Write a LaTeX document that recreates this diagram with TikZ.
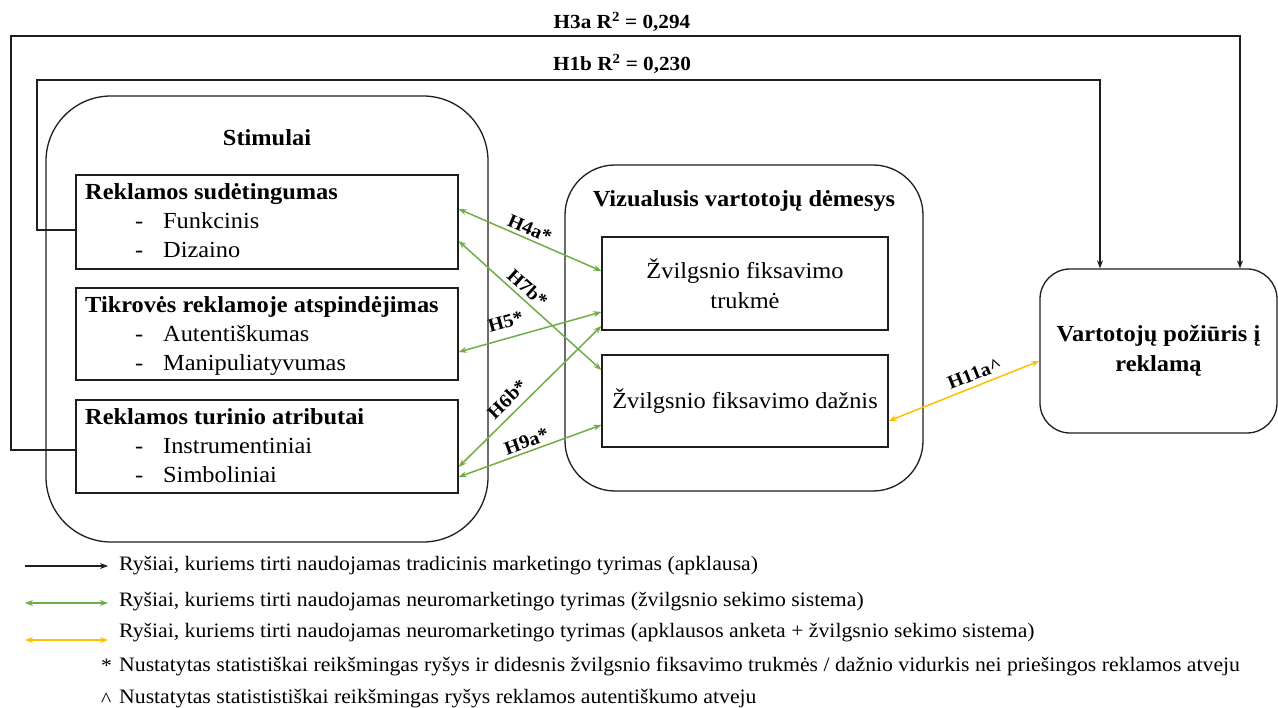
\documentclass[tikz,border=0pt]{standalone}
\usepackage{fontspec}
\setmainfont{Liberation Serif}[FakeStretch=1.06]
\usetikzlibrary{arrows.meta,calc}

\definecolor{eyegreen}{HTML}{70AD47}
\definecolor{mixyellow}{HTML}{FFC000}
\definecolor{linegray}{HTML}{1E1E1E}

\tikzset{
  x=1pt, y=-1pt,
  >={Stealth[length=8pt,width=6pt]},
  panel/.style={draw=linegray, line width=1.3pt, rounded corners=#1, inner sep=0pt},
  factor/.style={draw=linegray, line width=1.3pt, rectangle, inner sep=0pt},
  boxtxt/.style={font=\fontsize{23}{30}\selectfont, inner sep=0pt},
  boxbold/.style={font=\fontsize{23}{30}\selectfont\bfseries, inner sep=0pt},
  blackline/.style={draw=linegray, line width=1.1pt},
  greenline/.style={draw=eyegreen, line width=1.5pt},
  yellowline/.style={draw=mixyellow, line width=1.5pt},
  hyp/.style={font=\fontsize{19}{19}\selectfont\bfseries, inner sep=1pt, sloped, above=#1},
  hyp/.default=2pt,
  toplabel/.style={font=\fontsize{20}{20}\selectfont\bfseries, inner sep=0pt},
  legtxt/.style={font=\fontsize{20.5}{24}\selectfont, inner sep=0pt, anchor=west},
}

\begin{document}
\begin{tikzpicture}
\useasboundingbox[fill=white] (0,0) rectangle (1278,708);

% ---- stimuli panel ----
\node[panel=65pt, minimum width=442pt, minimum height=446pt] (stim) at (267,319) {};
\node[boxbold] (stimtitle) at (267,138) {Stimulai};

\node[factor, minimum width=382pt, minimum height=94pt] (b1) at (267,222) {};
\node[factor, minimum width=382pt, minimum height=92pt] (b2) at (267,334) {};
\node[factor, minimum width=382pt, minimum height=93pt] (b3) at (267,446.5) {};

\node[boxbold, anchor=base west] (b1t) at (85,200) {Reklamos sudėtingumas};
\node[boxtxt, anchor=base west] (b1a) at (135,229) {\makebox[28pt][l]{-}Funkcinis};
\node[boxtxt, anchor=base west] (b1b) at (135,258) {\makebox[28pt][l]{-}Dizaino};

\node[boxbold, anchor=base west] (b2t) at (85,313) {Tikrovės reklamoje atspindėjimas};
\node[boxtxt, anchor=base west] (b2a) at (135,342) {\makebox[28pt][l]{-}Autentiškumas};
\node[boxtxt, anchor=base west] (b2b) at (135,371) {\makebox[28pt][l]{-}Manipuliatyvumas};

\node[boxbold, anchor=base west] (b3t) at (85,425) {Reklamos turinio atributai};
\node[boxtxt, anchor=base west] (b3a) at (135,454) {\makebox[28pt][l]{-}Instrumentiniai};
\node[boxtxt, anchor=base west] (b3b) at (135,483) {\makebox[28pt][l]{-}Simboliniai};

% ---- visual attention panel ----
\node[panel=50pt, minimum width=358pt, minimum height=326pt] (vis) at (744,328) {};
\node[boxbold] (vistitle) at (744,201) {Vizualusis vartotojų dėmesys};
\node[factor, boxtxt, align=center, minimum width=286pt, minimum height=93pt] (t1) at (745,283.5)
  {Žvilgsnio fiksavimo\\trukmė};
\node[factor, boxtxt, align=center, minimum width=286pt, minimum height=92pt] (t2) at (745,401)
  {Žvilgsnio fiksavimo dažnis};

% ---- attitude box ----
\node[panel=30pt, boxbold, align=center, minimum width=237pt, minimum height=164pt] (vp) at (1158.5,351)
  {Vartotojų požiūris į\\reklamą};

% ---- survey relations ----
\coordinate (h1c) at (37,80);
\coordinate (h3c) at (11,36);
\draw[blackline,->] ([yshift=-8pt]b1.west) -| (h1c) -| ([xshift=-58.5pt]vp.north);
\draw[blackline,->] ([yshift=-3.5pt]b3.west) -| (h3c) -| ([xshift=81.5pt]vp.north);
\node[toplabel] (h3lab) at (622,22) {H3a R\textsuperscript{2} = 0,294};
\node[toplabel] (h1lab) at (622,64) {H1b R\textsuperscript{2} = 0,230};

% ---- eye-tracking relations ----
\draw[greenline,<->] ([yshift=13pt]b1.east) -- node[hyp, pos=0.47] {H4a*} ([yshift=12.5pt]t1.west);
\draw[greenline,<->] ([yshift=-19pt]b1.east) -- node[hyp=3pt, pos=0.43] {H7b*} ([yshift=31pt]t2.west);
\draw[greenline,<->] ([yshift=-18pt]b2.east) -- node[hyp=8pt, pos=0.36] {H5*} ([yshift=-28.5pt]t1.west);
\draw[greenline,<->] ([yshift=-20.5pt]b3.east) -- node[hyp=6pt, pos=0.41] {H6b*} ([yshift=-42.5pt]t1.west);
\draw[greenline,<->] ([yshift=-30.5pt]b3.east) -- node[hyp, pos=0.50] {H9a*} ([yshift=-24pt]t2.west);

% ---- combined relation ----
\draw[yellowline,<->] ([yshift=-20pt]t2.east) -- node[hyp=4pt, pos=0.6] {H11a\textasciicircum} ([yshift=-10pt]vp.west);

% ---- legend ----
\coordinate (l1a) at (25,566);  \coordinate (l1b) at (108,566);
\coordinate (l2a) at (25,603);  \coordinate (l2b) at (108,603);
\coordinate (l3a) at (25,640);  \coordinate (l3b) at (108,640);
\draw[blackline,->] (l1a) -- (l1b);
\draw[greenline,<->] (l2a) -- (l2b);
\draw[yellowline,<->] (l3a) -- (l3b);
\node[legtxt] (lt1) at (119,566) {Ryšiai, kuriems tirti naudojamas tradicinis marketingo tyrimas (apklausa)};
\node[legtxt] (lt2) at (119,602) {Ryšiai, kuriems tirti naudojamas neuromarketingo tyrimas (žvilgsnio sekimo sistema)};
\node[legtxt] (lt3) at (119,633) {Ryšiai, kuriems tirti naudojamas neuromarketingo tyrimas (apklausos anketa + žvilgsnio sekimo sistema)};
\node[legtxt, anchor=base west] (ls4) at (101,672) {*};
\node[legtxt] (lt4) at (119,666) {Nustatytas statistiškai reikšmingas ryšys ir didesnis žvilgsnio fiksavimo trukmės / dažnio vidurkis nei priešingos reklamos atveju};
\node[legtxt, anchor=base west] (ls5) at (101,706) {\textasciicircum};
\node[legtxt] (lt5) at (119,699) {Nustatytas statististiškai reikšmingas ryšys reklamos autentiškumo atveju};
\end{tikzpicture}
\end{document}
